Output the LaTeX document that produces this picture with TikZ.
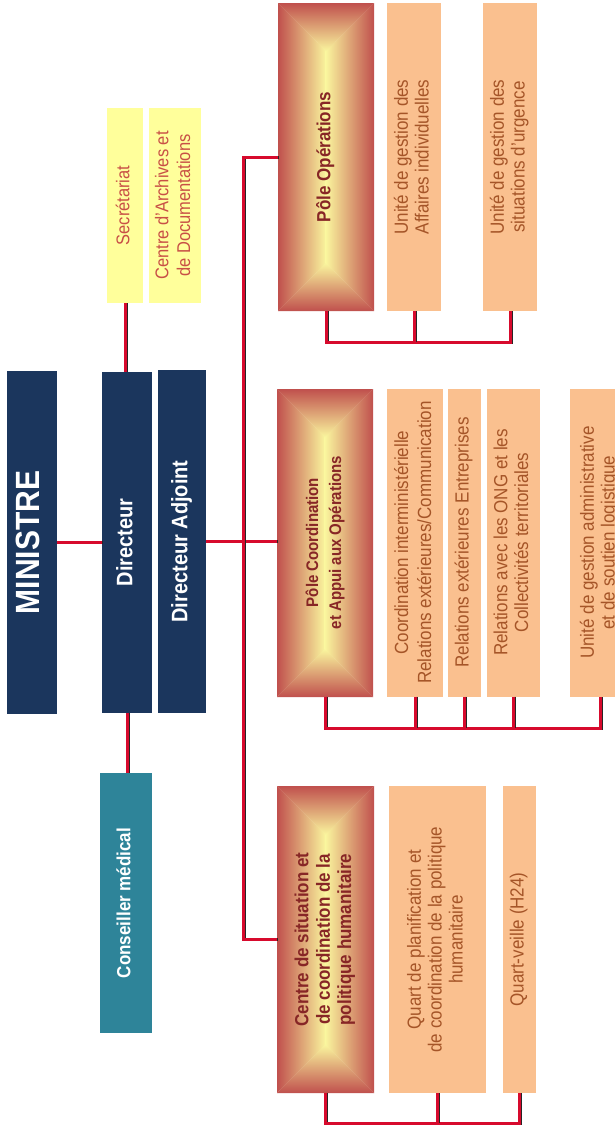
\documentclass[tikz,border=0pt]{standalone}
\usepackage{graphicx}
\usepackage{fontspec}
\setmainfont{Liberation Sans}
\definecolor{navy}{RGB}{27,54,93}
\definecolor{teal2}{RGB}{46,132,153}
\definecolor{peach}{RGB}{250,192,143}
\definecolor{peachtxt}{RGB}{165,85,40}
\definecolor{yel}{RGB}{255,255,155}
\definecolor{yeltxt}{RGB}{200,80,70}
\definecolor{pred}{RGB}{192,80,77}
\definecolor{pmid}{RGB}{236,190,122}
\definecolor{pyel}{RGB}{250,246,158}
\definecolor{poletxt}{RGB}{135,38,38}
\definecolor{wred}{RGB}{215,10,45}
\newcommand\rtxt[1]{\rotatebox{90}{\scalebox{1}[1.12]{\begin{tabular}{@{}c@{}}#1\end{tabular}}}}
\newcommand\rectgrad[4]{%
  \pgfmathsetmacro\gxc{(#1+#3)/2}%
  \pgfmathsetmacro\ghw{(#3-#1)/2}%
  \pgfmathsetmacro\gya{#2+\ghw}%
  \pgfmathsetmacro\gyb{#4-\ghw}%
  \shade[left color=pred, middle color=pmid, right color=pyel] (#1,#2) -- (\gxc+0.3,\gya) -- (\gxc+0.3,\gyb) -- (#1,#4) -- cycle;
  \shade[left color=pyel, middle color=pmid, right color=pred] (#3,#2) -- (\gxc-0.3,\gya) -- (\gxc-0.3,\gyb) -- (#3,#4) -- cycle;
  \shade[top color=pred, middle color=pmid, bottom color=pyel] (#1,#2) -- (#3,#2) -- (\gxc,\gya+0.3) -- cycle;
  \shade[top color=pyel, middle color=pmid, bottom color=pred] (#1,#4) -- (#3,#4) -- (\gxc,\gyb-0.3) -- cycle;
}
\newcommand\conn[1]{\draw[shw] #1; \draw[wire] #1;}
\begin{document}
\begin{tikzpicture}[x=1pt,y=-1pt,
  bx/.style={inner sep=0pt, outer sep=0pt, draw=none},
  sz/.style 2 args={minimum width=#1, minimum height=#2},
  navybox/.style={bx, fill=navy, text=white, font=\bfseries\fontsize{20}{24}\selectfont},
  tealbox/.style={bx, fill=teal2, text=white, font=\bfseries\fontsize{17}{20}\selectfont},
  peachbox/.style={bx, fill=peach, text=peachtxt, font=\fontsize{17}{18.6}\selectfont},
  yelbox/.style={bx, fill=yel, text=yeltxt, font=\fontsize{16.5}{19.4}\selectfont},
  polebox/.style={bx, text=poletxt, font=\bfseries\fontsize{17}{19}\selectfont},
  wire/.style={draw=wred, line width=3pt, line join=miter},
  shw/.style={draw=black!85, line width=3pt, line join=miter, transform canvas={xshift=1.3pt}}
]
\useasboundingbox (0,0) rectangle (615,1125);

% gradient backgrounds for the three poles
\rectgrad{278}{3}{374}{311}
\rectgrad{277}{389}{373}{697}
\rectgrad{277}{786}{374}{1093}

% left column
\node[navybox, sz={50pt}{343pt}, font=\bfseries\fontsize{30}{34}\selectfont] (mini) at (32,542.5) {\rtxt{MINISTRE}};
\node[navybox, sz={50pt}{341pt}] (dir) at (127,542.5) {\rtxt{Directeur}};
\node[navybox, sz={48pt}{343pt}] (dadj) at (182,541.5) {\rtxt{Directeur Adjoint}};
\node[yelbox, sz={36pt}{195pt}] (sec) at (125,205.5) {\rtxt{Secrétariat}};
\node[yelbox, sz={52pt}{195pt}] (arch) at (175,205.5) {\rtxt{Centre d’Archives et\\de Documentations}};
\node[tealbox, sz={52pt}{260pt}] (cons) at (126,903) {\rtxt{Conseiller médical}};

% Pole Operations
\node[polebox, sz={96pt}{308pt}] (pop) at (326,157) {\rtxt{Pôle Opérations}};
\node[peachbox, sz={54pt}{308pt}] (u1) at (414,157) {\rtxt{Unité de gestion des\\Affaires individuelles}};
\node[peachbox, sz={54pt}{308pt}] (u2) at (510,157) {\rtxt{Unité de gestion des\\situations d’urgence}};

% Pole Coordination
\node[polebox, sz={96pt}{308pt}, font=\bfseries\fontsize{15}{20.5}\selectfont] (pco) at (325,542.5) {\rtxt{Pôle Coordination\\et Appui aux Opérations}};
\node[peachbox, sz={56pt}{308pt}, font=\fontsize{17}{20.5}\selectfont] (c1) at (415,542.5) {\rtxt{Coordination interministérielle\\Relations extérieures/Communication}};
\node[peachbox, sz={33pt}{308pt}] (c2) at (464.5,542.5) {\rtxt{Relations extérieures Entreprises}};
\node[peachbox, sz={53pt}{308pt}] (c3) at (513.5,542.5) {\rtxt{Relations avec les ONG et les\\Collectivités territoriales}};
\node[peachbox, sz={60pt}{308pt}] (c4) at (600,542.5) {\rtxt{Unité de gestion administrative\\et de soutien logistique}};

% Centre de situation
\node[polebox, sz={97pt}{307pt}] (csit) at (325.5,939.5) {\rtxt{Centre de situation et\\de coordination de la\\politique humanitaire}};
\node[peachbox, sz={97pt}{307pt}] (q1) at (437.5,939.5) {\rtxt{Quart de planification et\\de coordination de la politique\\humanitaire}};
\node[peachbox, sz={33pt}{307pt}] (q2) at (519.5,939.5) {\rtxt{Quart-veille (H24)}};

% bus coordinates
\coordinate (busx) at (243,0);
\coordinate (busA) at (0,342);
\coordinate (busB) at (0,728);
\coordinate (busC) at (0,1123);

% connectors
\conn{(mini.east) -- (dir.west)}
\conn{(sec.south) -- (sec.south |- dir.north)}
\conn{(dir.south) -- (dir.south |- cons.north)}
\conn{(dadj.east) -- (dadj.east -| pco.west)}
\conn{(pop.west) -- (pop.west -| busx) -- (csit.west -| busx) -- (csit.west)}

\conn{(pop.south) -- (pop.south |- busA) -- (u2.south |- busA) -- (u2.south)}
\conn{(u1.south) -- (u1.south |- busA)}

\conn{(pco.south) -- (pco.south |- busB) -- (c4.south |- busB) -- (c4.south)}
\conn{(c1.south) -- (c1.south |- busB)}
\conn{(c2.south) -- (c2.south |- busB)}
\conn{(c3.south) -- (c3.south |- busB)}

\conn{(csit.south) -- (csit.south |- busC) -- (q2.south |- busC) -- (q2.south)}
\conn{(q1.south) -- (q1.south |- busC)}
\end{tikzpicture}
\end{document}
